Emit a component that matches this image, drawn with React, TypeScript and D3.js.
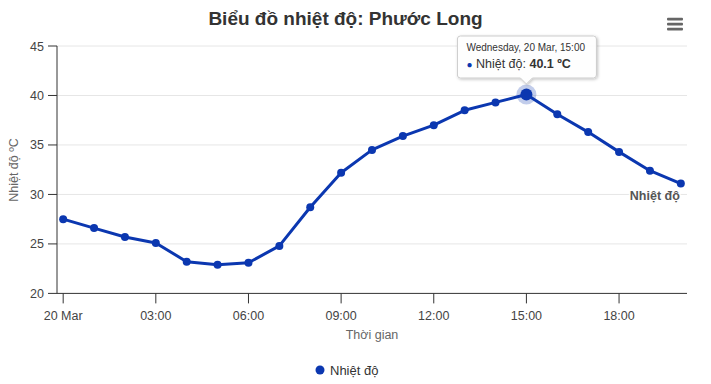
import React from "react";
import * as d3 from "d3";

const hours = [0, 1, 2, 3, 4, 5, 6, 7, 8, 9, 10, 11, 12, 13, 14, 15, 16, 17, 18, 19, 20];
const temps = [27.5, 26.6, 25.7, 25.1, 23.2, 22.9, 23.1, 24.8, 28.7, 32.2, 34.5, 35.9, 37.0, 38.5, 39.3, 40.1, 38.1, 36.3, 34.3, 32.4, 31.1];
const yTicks = [20, 25, 30, 35, 40, 45];
const xTickHours = [0, 3, 6, 9, 12, 15, 18];
const title = "Biểu đồ nhiệt độ: Phước Long";
const seriesName = "Nhiệt độ";
const yTitle = "Nhiệt độ ºC";
const xTitle = "Thời gian";
const hoverIndex = 15;

const W = 711, H = 384;
const left = 57, right = 687, top = 46, bottom = 293.4;
const color = "#0b37b0";
const font = "'Liberation Sans', Arial, Helvetica, sans-serif";

const base = new Date(2024, 2, 20, 0, 0, 0);
const toDate = (h: number) => new Date(base.getTime() + h * 3600000);

export default function App() {
  const x = d3.scaleTime()
    .domain([toDate(-0.2), toDate(20.2)])
    .range([left, right]);
  const y = d3.scaleLinear().domain([20, 45]).range([bottom, top]);
  const pts = hours.map((h, i) => ({ d: toDate(h), v: temps[i] }));
  const line = d3.line<{ d: Date; v: number }>().x(p => x(p.d)).y(p => y(p.v));
  const fmtTick = (d: Date) => (d.getHours() === 0 ? d3.timeFormat("%-d %b")(d) : d3.timeFormat("%H:%M")(d));
  const hp = pts[hoverIndex];
  const hx = x(hp.d), hy = y(hp.v);
  const tipW = 139, tipH = 42;
  const tipX = hx - 69, tipY = 36;
  const last = pts[pts.length - 1];

  return (
    <svg width={W} height={H} style={{ position: "absolute", left: 0, top: 0, fontFamily: font }}>
      <defs>
        <filter id="sh" x="-20%" y="-20%" width="140%" height="160%">
          <feDropShadow dx="1" dy="1" stdDeviation="1.5" floodColor="#000" floodOpacity="0.25" />
        </filter>
      </defs>
      <rect width={W} height={H} fill="#fff" />
      <text x={345.5} y={25} textAnchor="middle" fontSize={19} fontWeight="bold" fill="#333">{title}</text>
      {/* menu */}
      {[19, 24, 29].map(yy => (
        <rect key={yy} x={667} y={yy - 1.2} width={16} height={2.6} rx={1} fill="#666" />
      ))}
      {/* gridlines */}
      {yTicks.filter(t => t !== 20).map(t => (
        <line key={t} x1={left} x2={right} y1={y(t)} y2={y(t)} stroke="#e6e6e6" strokeWidth={1} />
      ))}
      {/* y axis */}
      <line x1={left} x2={left} y1={top} y2={bottom} stroke="#333" strokeWidth={1} />
      {yTicks.map(t => (
        <g key={t}>
          <line x1={left - 9} x2={left} y1={y(t)} y2={y(t)} stroke="#333" />
          <text x={44} y={y(t) + 4.5} textAnchor="end" fontSize={12.5} fill="#444">{t}</text>
        </g>
      ))}
      <text transform={`translate(18,170) rotate(-90)`} textAnchor="middle" fontSize={12.5} fill="#666">{yTitle}</text>
      {/* x axis */}
      <line x1={left} x2={right} y1={bottom} y2={bottom} stroke="#333" strokeWidth={1} />
      {xTickHours.map(h => {
        const d = toDate(h);
        return (
          <g key={h}>
            <line x1={x(d)} x2={x(d)} y1={bottom} y2={bottom + 10} stroke="#333" />
            <text x={x(d)} y={bottom + 27} textAnchor="middle" fontSize={12.5} fill="#444">{fmtTick(d)}</text>
          </g>
        );
      })}
      <text x={(left + right) / 2} y={339} textAnchor="middle" fontSize={12.5} fill="#666">{xTitle}</text>
      {/* series */}
      <path d={line(pts) || ""} fill="none" stroke={color} strokeWidth={3} strokeLinejoin="round" strokeLinecap="round" />
      {pts.map((p, i) => (
        <circle key={i} cx={x(p.d)} cy={y(p.v)} r={4} fill={color} />
      ))}
      <circle cx={hx} cy={hy} r={10} fill={color} opacity={0.25} />
      <circle cx={hx} cy={hy} r={6} fill={color} />
      {/* series label */}
      <text x={x(last.d) - 1} y={y(last.v) + 16} textAnchor="end" fontSize={12.5} fontWeight="bold" fill="#555" stroke="#fff" strokeWidth={3} paintOrder="stroke">{seriesName}</text>
      {/* tooltip */}
      <path
        d={`M${tipX + 3},${tipY} h${tipW - 6} a3,3 0 0 1 3,3 v${tipH - 6} a3,3 0 0 1 -3,3 H${hx + 6} L${hx},${tipY + tipH + 6} L${hx - 6},${tipY + tipH} H${tipX + 3} a3,3 0 0 1 -3,-3 v${-(tipH - 6)} a3,3 0 0 1 3,-3 Z`}
        fill="#fff"
        fillOpacity={0.95}
        stroke="#ccc"
        strokeWidth={1}
        filter="url(#sh)"
      />
      <text x={tipX + 9} y={tipY + 15} fontSize={10} fill="#333">Wednesday, 20 Mar, 15:00</text>
      <text x={tipX + 9} y={tipY + 32} fontSize={12.5} fill="#333">
        <tspan fill={color} fontSize={10}>●</tspan>
        <tspan> {seriesName}: </tspan>
        <tspan fontWeight="bold">{hp.v.toFixed(1)} ºC</tspan>
      </text>
      {/* legend */}
      <circle cx={320} cy={370} r={4.5} fill={color} />
      <text x={330} y={374.5} fontSize={13} fill="#333">{seriesName}</text>
    </svg>
  );
}
